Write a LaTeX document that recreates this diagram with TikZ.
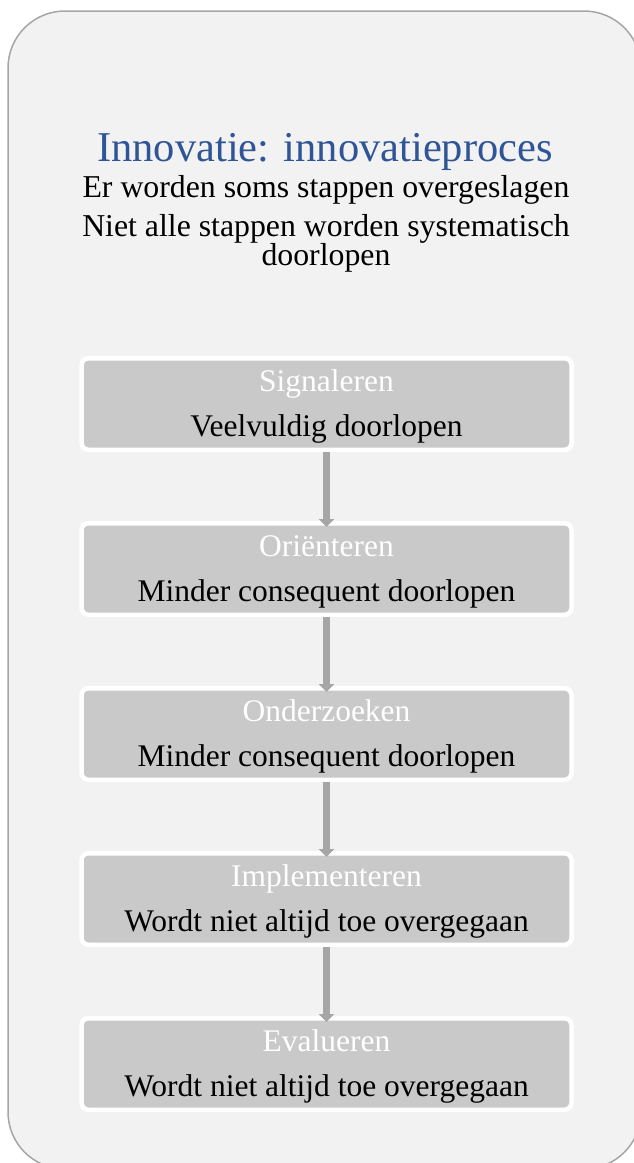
\documentclass[tikz,border=0pt]{standalone}
\usepackage{fontspec}
\setmainfont{Liberation Serif}
\usetikzlibrary{arrows.meta}
\definecolor{panelfill}{HTML}{F2F2F2}
\definecolor{panelline}{HTML}{A6A6A6}
\definecolor{stepfill}{HTML}{C9C9C9}
\definecolor{flowline}{HTML}{A6A6A6}
\definecolor{titleblue}{HTML}{2F5597}
\begin{document}
\begin{tikzpicture}[x=1pt,y=-1pt,
  stepbox/.style={draw=white, line width=4.5pt, fill=stepfill, rounded corners=7pt,
    minimum width=490pt, minimum height=91.5pt, inner sep=0pt},
  steplabel/.style={anchor=base, text=white, font=\fontsize{31.5}{34}\selectfont, inner sep=0pt},
  stepnote/.style={anchor=base, text=black, font=\fontsize{31.5}{34}\selectfont, inner sep=0pt},
  headline/.style={anchor=base, text=titleblue, font=\fontsize{42.5}{46}\selectfont, inner sep=0pt},
  subline/.style={anchor=base, text=black, font=\fontsize{31.8}{34}\selectfont, inner sep=0pt},
  flow/.style={flowline, line width=7.5pt, -{Triangle[width=15pt,length=8pt]}, shorten >=-6pt}]
\useasboundingbox (0,0) rectangle (634,1163);
% outer panel, running past the right and bottom edges
\begin{scope}
  \clip (0,0) rectangle (634,1163);
  \draw[panelline, fill=panelfill, line width=1.5pt, rounded corners=57pt] (8,11) rectangle (641,1169);
\end{scope}

% heading and remarks
\node[headline] (title) at (325,161) {Innovatie: innovatieproces};
\node[subline] (rem1) at (326,197) {Er worden soms stappen overgeslagen};
\node[subline] (rem2a) at (326,236) {Niet alle stappen worden systematisch};
\node[subline] (rem2b) at (326,265) {doorlopen};

% process steps
\foreach \i/\yy/\head/\note in {
  1/404/Signaleren/Veelvuldig doorlopen,
  2/569/Oriënteren/Minder consequent doorlopen,
  3/734/Onderzoeken/Minder consequent doorlopen,
  4/899/Implementeren/Wordt niet altijd toe overgegaan,
  5/1064/Evalueren/Wordt niet altijd toe overgegaan}{
  \node[stepbox] (s\i) at (326.5,\yy) {};
  \node[steplabel] (h\i) at (326.5,\yy-13) {\head};
  \node[stepnote] (n\i) at (326.5,\yy+32) {\note};
}

% connectors between steps
\foreach \a/\b in {1/2,2/3,3/4,4/5}{
  \draw[flow] (s\a.south) -- (s\b.north);
}
\end{tikzpicture}
\end{document}
